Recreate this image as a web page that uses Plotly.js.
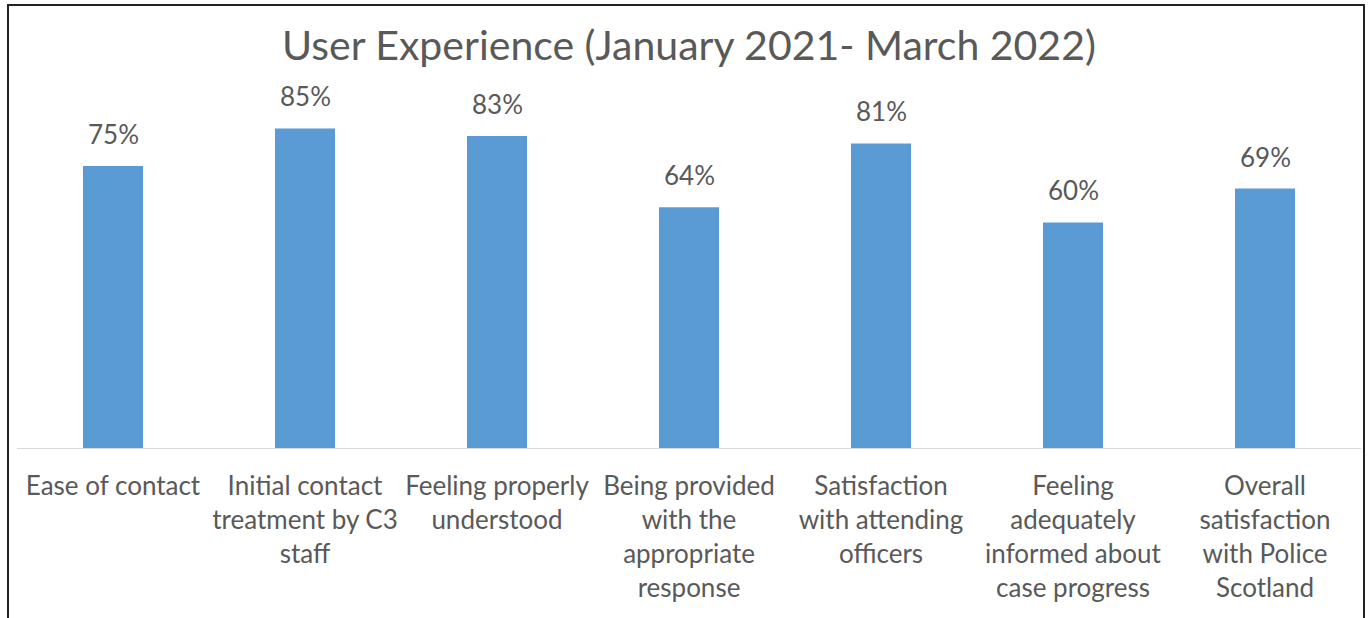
<!DOCTYPE html>
<html>
<head>
<meta charset="utf-8">
<script src="https://cdn.plot.ly/plotly-3.0.1.min.js"></script>
<style>
  html, body { margin: 0; padding: 0; background: #fff; }
  #chart { width: 1370px; height: 618px; }
</style>
</head>
<body>
<div id="chart"></div>
<script>
var categories = [
  "Ease of contact",
  "Initial contact<br>treatment by C3<br>staff",
  "Feeling properly<br>understood",
  "Being provided<br>with the<br>appropriate<br>response",
  "Satisfaction<br>with attending<br>officers",
  "Feeling<br>adequately<br>informed about<br>case progress",
  "Overall<br>satisfaction<br>with Police<br>Scotland"
];
var scores = [75, 85, 83, 64, 81, 60, 69];

var textColor = "#595959";
var fontName = "Lato, 'Open Sans', sans-serif";

var trace = {
  x: categories,
  y: scores,
  type: "bar",
  width: 0.3125,
  marker: {color: "#5B9BD5"},
  hoverinfo: "none"
};

// value labels above each bar
var labels = categories.map(function (c, i) {
  return {
    x: c,
    y: scores[i],
    text: scores[i] + "%",
    showarrow: false,
    yanchor: "bottom",
    yshift: 14,
    font: {family: fontName, size: 26, color: textColor}
  };
});

var layout = {
  width: 1370,
  height: 618,
  margin: {l: 17, r: 9, t: 72, b: 170},
  paper_bgcolor: "#fff",
  plot_bgcolor: "#fff",
  showlegend: false,
  title: {
    text: "User Experience (January 2021- March 2022)",
    font: {family: fontName, size: 41, color: textColor},
    x: 0.5,
    xref: "paper",
    y: 1 - 46 / 618,
    yref: "container",
    yanchor: "middle"
  },
  xaxis: {
    showline: true,
    linecolor: "#d9d9d9",
    linewidth: 1,
    ticks: "",
    ticklabelstandoff: 15,
    tickfont: {family: fontName, size: 26, color: textColor},
    showgrid: false,
    zeroline: false
  },
  yaxis: {
    range: [0, 100],
    visible: false,
    showgrid: false,
    zeroline: false
  },
  annotations: labels,
  shapes: [{
    type: "rect",
    xref: "paper", yref: "paper",
    x0: (8 - 17) / 1344, x1: (1364 - 17) / 1344,
    y0: (448 - 640) / 376, y1: (448 - 5) / 376,
    line: {color: "#222", width: 2},
    fillcolor: "rgba(0,0,0,0)",
    layer: "above"
  }]
};

Plotly.newPlot("chart", [trace], layout, {displayModeBar: false, staticPlot: true});
</script>
</body>
</html>
